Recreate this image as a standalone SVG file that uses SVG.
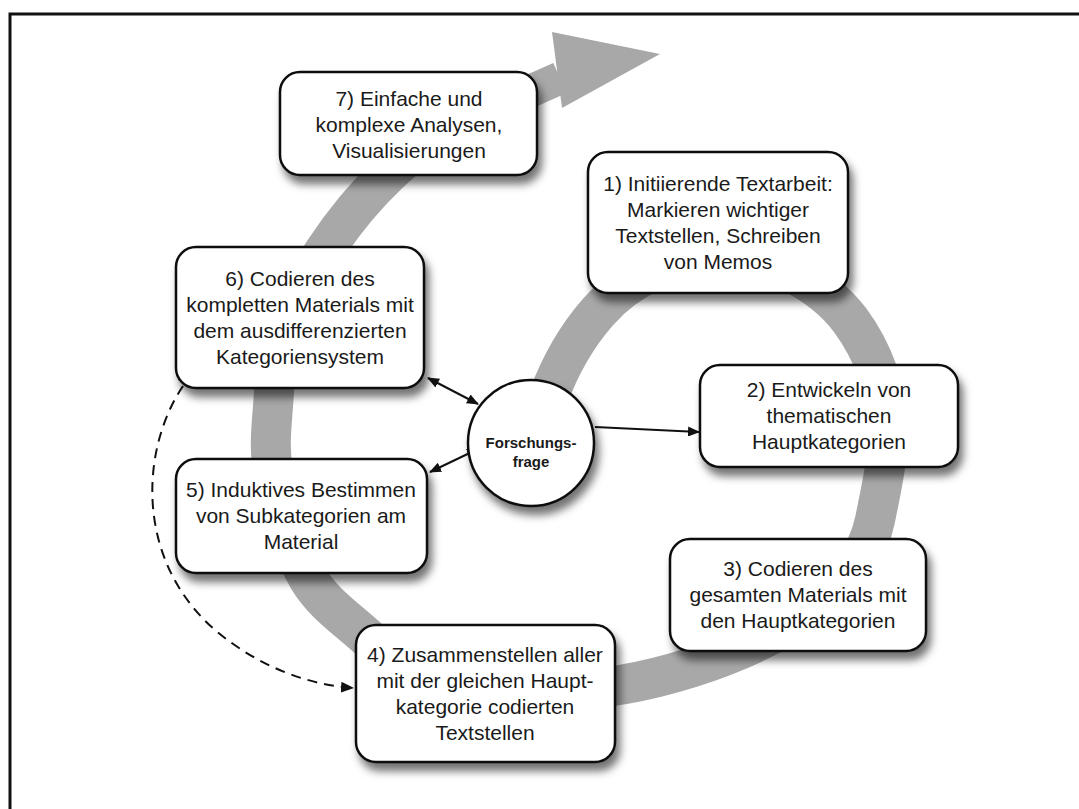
<svg xmlns="http://www.w3.org/2000/svg" width="1079" height="809" viewBox="0 0 1079 809">
  <defs>
    <filter id="shadow" x="-20%" y="-20%" width="140%" height="150%">
      <feDropShadow dx="4" dy="8" stdDeviation="4" flood-color="#000" flood-opacity="0.55"/>
    </filter>
    <marker id="head" viewBox="0 0 12 10" refX="11" refY="5" markerWidth="12" markerHeight="10" markerUnits="userSpaceOnUse" orient="auto-start-reverse">
      <path d="M0,0 L12,5 L0,10 Z" fill="#111"/>
    </marker>
    <marker id="headDash" viewBox="0 0 12 10" refX="11" refY="5" markerWidth="13" markerHeight="11" markerUnits="userSpaceOnUse" orient="auto">
      <path d="M0,0 L12,5 L0,10 Z" fill="#111"/>
    </marker>
  </defs>
  <style>
    .box { fill: #fff; stroke: #111; stroke-width: 2.5; filter: url(#shadow); }
    .lbl { font-family: "Liberation Sans", Arial, sans-serif; font-size: 21px; fill: #1a1a1a; text-anchor: middle; }
    .q { font-family: "Liberation Sans", Arial, sans-serif; font-size: 15px; font-weight: bold; fill: #1a1a1a; text-anchor: middle; }
    .band { fill: none; stroke: #a8a8a8; stroke-width: 40; }
    .link { fill: none; stroke: #111; stroke-width: 2; }
    .dash { fill: none; stroke: #111; stroke-width: 2; stroke-dasharray: 10 7; }
  </style>

  <rect width="1079" height="809" fill="#fff"/>
  <!-- frame -->
  <path d="M10,809 L10,14 L1079,14" fill="none" stroke="#111" stroke-width="3"/>

  <!-- process spiral, widening outwards and leaving as an arrow -->
  <g id="spiral">
    <path class="band" d="M548,398 C559.5,367 576,337 598,312 C628,278 675,255 720,255 C768,255 821,282 850,320 C873,351 888,391 888,430 C888,460 881,490 875,520 C859,599 765,644 690,668 C636,685 577,695 520,688 C468,682 409,678 372,642 C350,621 323,604 308,578 C289,545 277,508 273,470 C268,443 273,417 274,390 C276.5,340 297.5,291.5 325,250 C361,196 410.5,144 470,118"/>
    <path d="M468,119 L560,78" fill="none" stroke="#a8a8a8" stroke-width="33"/>
    <polygon points="552,32 660,54 562,108" fill="#a8a8a8"/>
  </g>

  <!-- connectors -->
  <g id="connectors">
    <path class="link" d="M428,378 L478,404" marker-start="url(#head)" marker-end="url(#head)"/>
    <path class="link" d="M430,472 L478,449" marker-start="url(#head)" marker-end="url(#head)"/>
    <path class="link" d="M595,427 L699,432" marker-end="url(#head)"/>
    <path class="dash" d="M183,386 C140,450 135,560 215,630 C260,668 310,685 353,688" marker-end="url(#headDash)"/>
  </g>

  <g id="frage">
    <circle cx="531" cy="443" r="63" class="box"/>
    <text class="q" x="531" y="448">Forschungs-</text>
    <text class="q" x="531" y="467">frage</text>
  </g>

  <g id="step7">
    <rect class="box" x="280" y="72" width="257" height="103" rx="20"/>
    <text class="lbl" x="409" y="106">7) Einfache und</text>
    <text class="lbl" x="409" y="132">komplexe Analysen,</text>
    <text class="lbl" x="409" y="158">Visualisierungen</text>
  </g>

  <g id="step1">
    <rect class="box" x="588" y="152" width="260" height="141" rx="20"/>
    <text class="lbl" x="718" y="191">1) Initiierende Textarbeit:</text>
    <text class="lbl" x="718" y="217">Markieren wichtiger</text>
    <text class="lbl" x="718" y="243">Textstellen, Schreiben</text>
    <text class="lbl" x="718" y="269">von Memos</text>
  </g>

  <g id="step6">
    <rect class="box" x="176" y="247" width="248" height="141" rx="20"/>
    <text class="lbl" x="300" y="286">6) Codieren des</text>
    <text class="lbl" x="300" y="312">kompletten Materials mit</text>
    <text class="lbl" x="300" y="338">dem ausdifferenzierten</text>
    <text class="lbl" x="300" y="364">Kategoriensystem</text>
  </g>

  <g id="step2">
    <rect class="box" x="700" y="365" width="258" height="102" rx="20"/>
    <text class="lbl" x="829" y="397">2) Entwickeln von</text>
    <text class="lbl" x="829" y="423">thematischen</text>
    <text class="lbl" x="829" y="449">Hauptkategorien</text>
  </g>

  <g id="step5">
    <rect class="box" x="176" y="459" width="251" height="114" rx="20"/>
    <text class="lbl" x="301" y="497">5) Induktives Bestimmen</text>
    <text class="lbl" x="301" y="523">von Subkategorien am</text>
    <text class="lbl" x="301" y="549">Material</text>
  </g>

  <g id="step3">
    <rect class="box" x="670" y="539" width="256" height="112" rx="20"/>
    <text class="lbl" x="798" y="576">3) Codieren des</text>
    <text class="lbl" x="798" y="602">gesamten Materials mit</text>
    <text class="lbl" x="798" y="628">den Hauptkategorien</text>
  </g>

  <g id="step4">
    <rect class="box" x="356" y="625" width="259" height="137" rx="20"/>
    <text class="lbl" x="485" y="662">4) Zusammenstellen aller</text>
    <text class="lbl" x="485" y="688">mit der gleichen Haupt-</text>
    <text class="lbl" x="485" y="714">kategorie codierten</text>
    <text class="lbl" x="485" y="740">Textstellen</text>
  </g>
</svg>
